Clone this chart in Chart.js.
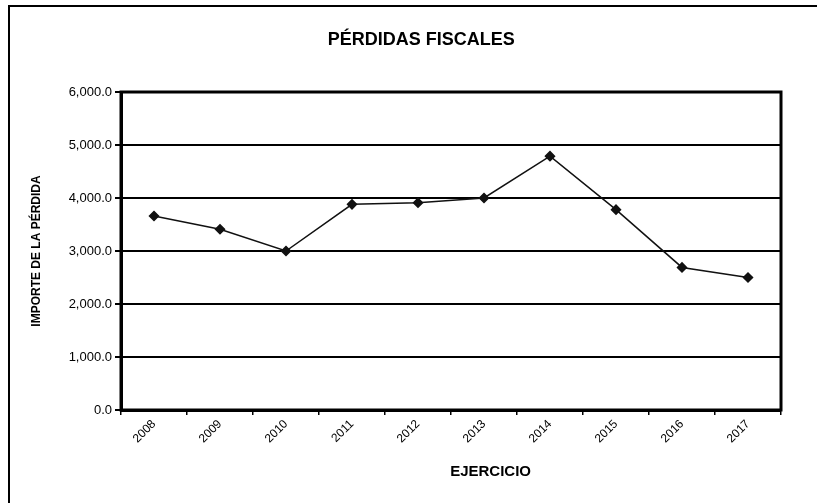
<!doctype html>
<html lang="es">

<head>
  <title>Pérdidas fiscales</title>
  <meta charset="utf-8">
  <style>
    body { margin: 0; background: #fff; }
  </style>
</head>

<body>
  <canvas id="migrafico" width="817" height="503"></canvas>

  <script src="https://cdn.jsdelivr.net/npm/chart.js"></script>

  <script>
    //Datos del gráfico
    const ejercicios = ['2008', '2009', '2010', '2011', '2012', '2013', '2014', '2015', '2016', '2017'];
    const importes = [3660, 3410, 3000, 3880, 3910, 4000, 4790, 3780, 2690, 2500];
    const valMin = 0;
    const valMax = 6000;
    const paso = 1000;

    const titulo = "PÉRDIDAS FISCALES";
    const tituloX = "EJERCICIO";
    const tituloY = "IMPORTE DE LA PÉRDIDA";
    const fuente = "'Liberation Sans', Arial, sans-serif";

    //Marco exterior, borde del área y títulos
    const marcoGrafico = {
      id: 'marcoGrafico',
      afterDraw(chart) {
        const ctx = chart.ctx;
        const area = chart.chartArea;
        ctx.save();
        ctx.strokeStyle = '#000';
        // marco de la hoja (izquierda y arriba)
        ctx.lineWidth = 2;
        ctx.beginPath();
        ctx.moveTo(9, 503);
        ctx.lineTo(9, 6);
        ctx.lineTo(817, 6);
        ctx.stroke();
        // borde del área de trazado
        ctx.lineWidth = 3;
        ctx.strokeRect(area.left, area.top, area.right - area.left, area.bottom - area.top);
        // títulos
        ctx.fillStyle = '#000';
        ctx.textAlign = 'center';
        ctx.textBaseline = 'middle';
        ctx.font = "bold 18px " + fuente;
        ctx.fillText(titulo, area.left + (area.right - area.left) * 0.455, 40);
        ctx.font = "bold 15px " + fuente;
        ctx.fillText(tituloX, area.left + (area.right - area.left) * 0.56, 472);
        ctx.restore();
      }
    };

    const lienzo = document.getElementById("migrafico");

    const grafico = new Chart(lienzo, {
      type: 'line',
      data: {
        labels: ejercicios,
        datasets: [{
          label: 'Importe',
          data: importes,
          borderColor: '#111',
          backgroundColor: '#111',
          borderWidth: 1.5,
          pointStyle: 'rectRot',
          pointRadius: 4.5,
          pointHoverRadius: 4.5,
          tension: 0
        }]
      },
      options: {
        responsive: false,
        animation: false,
        layout: {
          padding: { left: 10, top: 92, right: 36, bottom: 0 }
        },
        plugins: {
          legend: { display: false },
          title: { display: false },
          tooltip: { enabled: false }
        },
        scales: {
          x: {
            offset: true,
            grid: {
              offset: true,
              drawOnChartArea: false,
              color: '#000',
              lineWidth: 1.5,
              tickLength: 5
            },
            border: { color: '#000', width: 3 },
            ticks: {
              color: '#000',
              font: { family: fuente, size: 12 },
              minRotation: 45,
              maxRotation: 45,
              padding: 2
            },
            afterFit(scale) {
              scale.height = 503 - 410;
            }
          },
          y: {
            min: valMin,
            max: valMax,
            grid: {
              color: '#000',
              lineWidth: 2,
              tickLength: 6
            },
            border: { color: '#000', width: 3 },
            ticks: {
              stepSize: paso,
              color: '#000',
              font: { family: fuente, size: 13 },
              padding: 3,
              callback: (v) => v.toLocaleString('en-US', { minimumFractionDigits: 1, maximumFractionDigits: 1 })
            },
            title: {
              display: true,
              text: tituloY,
              color: '#000',
              font: { family: fuente, size: 12, weight: 'bold' },
              padding: { top: 19, bottom: 0 }
            },
            afterFit(scale) {
              scale.width = 121 - 10;
            }
          }
        }
      },
      plugins: [marcoGrafico]
    });
  </script>
</body>

</html>
